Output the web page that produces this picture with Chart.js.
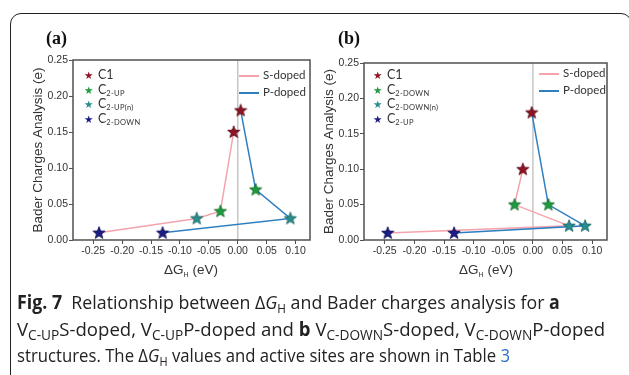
<!DOCTYPE html>
<html><head><meta charset="utf-8">
<script src="https://cdn.jsdelivr.net/npm/chart.js@4"></script>
<style>
html,body{margin:0;padding:0;background:#fff;}
body{width:629px;height:375px;position:relative;overflow:hidden;font-family:"Liberation Sans",Arial,sans-serif;}
#frame{position:absolute;left:10px;top:13px;width:622px;height:420px;border:1.3px solid #222;border-radius:11px;box-sizing:border-box;}
canvas{position:absolute;top:0;}
#ca{left:0;}
#cb{left:310px;}
.plabel{position:absolute;font-family:"Liberation Serif","Times New Roman",serif;font-weight:bold;font-size:18px;color:#111;line-height:18px;}
.xt{position:absolute;font-size:13.5px;color:#333;transform:translateX(-50%);white-space:nowrap;line-height:14px;}
.xt sub{font-size:7px;vertical-align:-3px;}
.leg{position:absolute;font-family:Lato,"Open Sans",sans-serif;font-size:12.5px;color:#333;}
.leg .row{white-space:nowrap;height:14.5px;line-height:14.5px;}
.leg .st{font-family:"DejaVu Sans",sans-serif;font-size:10.5px;display:inline-block;width:14px;}
.leg sub{font-size:7.5px;vertical-align:-2px;letter-spacing:0.3px;}
.leg2{position:absolute;font-family:Lato,"Open Sans",sans-serif;font-size:11.5px;color:#333;}
.leg2 .row{white-space:nowrap;height:17px;line-height:17px;}
.leg2 .ln{display:inline-block;width:20px;height:1.5px;vertical-align:middle;margin-right:4px;}
#cap{position:absolute;left:17px;top:289px;font-family:"Open Sans",sans-serif;font-size:19px;line-height:26.5px;color:#222;white-space:nowrap;}
#cap .row{height:26.5px;}
#cap .ln{display:inline-block;transform-origin:0 0;}
#cap sub{font-size:12.5px;vertical-align:-4px;line-height:0;}
#cap .big sub{font-size:14px;}
</style></head>
<body>
<div id="frame"></div>
<canvas id="ca" width="320" height="280"></canvas>
<canvas id="cb" width="319" height="280"></canvas>
<div class="plabel" style="left:46px;top:29px;">(a)</div>
<div class="plabel" style="left:338px;top:29px;">(b)</div>
<div class="xt" id="xta" style="left:191px;top:263px;">ΔG<sub>H</sub> (eV)</div>
<div class="xt" id="xtb" style="left:486px;top:263px;">ΔG<sub>H</sub> (eV)</div>
<div class="leg" id="lega" style="left:84px;top:68px;"></div>
<div class="leg" id="legb" style="left:373px;top:68px;"></div>
<div class="leg2" id="leg2a" style="left:239px;top:66px;"></div>
<div class="leg2" id="leg2b" style="left:539px;top:64px;"></div>
<div id="cap">
<div class="row"><span class="ln" data-w="543"><b>Fig. 7</b>&nbsp; Relationship between Δ<i>G</i><sub>H</sub> and Bader charges analysis for <b>a</b></span></div>
<div class="row"><span class="ln big" data-w="588">V<sub>C-UP</sub>S-doped, V<sub>C-UP</sub>P-doped and <b>b</b> V<sub>C-DOWN</sub>S-doped, V<sub>C-DOWN</sub>P-doped</span></div>
<div class="row"><span class="ln" data-w="493">structures. The Δ<i>G</i><sub>H</sub> values and active sites are shown in Table <span style="color:#2a6fc9">3</span></span></div>
</div>
<script>
// ---- data ----
const xTickValues = [-0.25, -0.20, -0.15, -0.10, -0.05, 0.00, 0.05, 0.10];
const yTickValues = [0.00, 0.05, 0.10, 0.15, 0.20, 0.25];
const seriesNames = ['S-doped', 'P-doped'];

// panel (a)
const aLegend = ['C1', 'C2-UP', 'C2-UP(n)', 'C2-DOWN'];
const aS_site = ['C2-DOWN', 'C2-UP(n)', 'C2-UP', 'C1'];
const aS_x = [-0.240, -0.071, -0.030, -0.007];
const aS_y = [0.010, 0.030, 0.040, 0.150];
const aP_site = ['C1', 'C2-UP', 'C2-UP(n)', 'C2-DOWN'];
const aP_x = [0.005, 0.031, 0.091, -0.130];
const aP_y = [0.180, 0.070, 0.030, 0.010];

// panel (b)
const bLegend = ['C1', 'C2-DOWN', 'C2-DOWN(n)', 'C2-UP'];
const bS_site = ['C1', 'C2-DOWN', 'C2-DOWN(n)', 'C2-UP'];
const bS_x = [-0.017, -0.031, 0.061, -0.245];
const bS_y = [0.100, 0.050, 0.020, 0.010];
const bP_site = ['C1', 'C2-DOWN', 'C2-DOWN(n)', 'C2-UP'];
const bP_x = [-0.002, 0.026, 0.088, -0.133];
const bP_y = [0.180, 0.050, 0.020, 0.010];

// ---- style ----
const siteColors = ['#8e1426', '#1f9a3e', '#2a8e8e', '#1c1c86'];
const siteEdge = ['#5a0a14', '#0f6a26', '#176060', '#0c0c55'];
const lineColors = ['#f4a4ac', '#2f7fc0'];

function starCanvas(fill, edge) {
  const c = document.createElement('canvas');
  c.width = 14; c.height = 14;
  const g = c.getContext('2d');
  const R = 6.5, r = 2.7, cx = 7, cy = 7.3;
  g.beginPath();
  for (let i = 0; i < 10; i++) {
    const rad = i % 2 === 0 ? R : r;
    const a = -Math.PI / 2 + i * Math.PI / 5;
    const px = cx + rad * Math.cos(a), py = cy + rad * Math.sin(a);
    if (i === 0) g.moveTo(px, py); else g.lineTo(px, py);
  }
  g.closePath();
  g.fillStyle = fill; g.fill();
  g.lineWidth = 0.8; g.strokeStyle = edge; g.stroke();
  return c;
}
const stars = siteColors.map((c, i) => starCanvas(c, siteEdge[i]));

const framePlugin = {
  id: 'frame',
  beforeDatasetsDraw(chart) {
    const { ctx, chartArea: a, scales } = chart;
    const x0 = scales.x.getPixelForValue(0);
    ctx.save();
    ctx.strokeStyle = '#c6c6c6'; ctx.lineWidth = 1.5;
    ctx.beginPath(); ctx.moveTo(x0, a.top); ctx.lineTo(x0, a.bottom); ctx.stroke();
    ctx.restore();
  },
  afterDatasetsDraw(chart) {
    const { ctx, chartArea: a } = chart;
    ctx.save();
    ctx.strokeStyle = '#505050'; ctx.lineWidth = 1.5;
    ctx.strokeRect(a.left, a.top, a.right - a.left, a.bottom - a.top);
    ctx.restore();
  }
};

function zip(xs, ys) { return xs.map((x, i) => ({ x: x, y: ys[i] })); }

function makeChart(id, legend, sSite, sx, sy, pSite, px, py, pad) {
  const styleFor = sites => sites.map(s => stars[legend.indexOf(s)]);
  const datasets = [
    { label: seriesNames[0] + ' sites', data: zip(sx, sy), showLine: false, pointStyle: styleFor(sSite), pointRadius: 6, order: 1 },
    { label: seriesNames[1] + ' sites', data: zip(px, py), showLine: false, pointStyle: styleFor(pSite), pointRadius: 6, order: 1 },
    { label: seriesNames[1], data: zip(px, py), showLine: true, borderColor: lineColors[1], borderWidth: 1.5, pointRadius: 0, order: 2 },
    { label: seriesNames[0], data: zip(sx, sy), showLine: true, borderColor: lineColors[0], borderWidth: 1.5, pointRadius: 0, order: 3 }
  ];
  return new Chart(document.getElementById(id), {
    type: 'scatter',
    data: { datasets },
    plugins: [framePlugin],
    options: {
      responsive: false, animation: false, devicePixelRatio: 1,
      layout: { padding: pad },
      plugins: { legend: { display: false }, tooltip: { enabled: false } },
      scales: {
        x: {
          type: 'linear', min: -0.285, max: 0.125,
          afterBuildTicks: s => { s.ticks = xTickValues.map(v => ({ value: v })); },
          afterFit: s => { s.height = 40; },
          ticks: { callback: v => v.toFixed(2), font: { size: 10.5, family: 'Liberation Sans' }, color: '#333', padding: 1, maxRotation: 0, autoSkip: false },
          grid: { drawOnChartArea: false, drawTicks: true, tickLength: 4, tickColor: '#505050', tickWidth: 1 },
          border: { display: false }
        },
        y: {
          type: 'linear', min: 0, max: 0.25,
          afterBuildTicks: s => { s.ticks = yTickValues.map(v => ({ value: v })); },
          afterFit: s => { s.width = 46; },
          ticks: { callback: v => v.toFixed(2), font: { size: 10.5, family: 'Liberation Sans' }, color: '#333', padding: 1, autoSkip: false },
          grid: { drawOnChartArea: false, drawTicks: true, tickLength: 4, tickColor: '#505050', tickWidth: 1 },
          border: { display: false },
          title: { display: true, text: 'Bader Charges Analysis (e)', font: { size: 13.5, family: 'Liberation Sans' }, color: '#333', padding: { top: 3, bottom: 0 } }
        }
      }
    }
  });
}

makeChart('ca', aLegend, aS_site, aS_x, aS_y, aP_site, aP_x, aP_y, { left: 27, top: 60, right: 10, bottom: 0 });
makeChart('cb', bLegend, bS_site, bS_x, bS_y, bP_site, bP_x, bP_y, { left: 8, top: 63, right: 22, bottom: 0 });

function siteLabel(s) { return s.startsWith('C2') ? 'C<sub>' + s.slice(1) + '</sub>' : s; }
function buildLegend(elId, legend) {
  document.getElementById(elId).innerHTML = legend.map((s, i) =>
    '<div class="row"><span class="st" style="color:' + siteColors[i] + '">★</span>' + siteLabel(s) + '</div>').join('');
}
buildLegend('lega', aLegend);
buildLegend('legb', bLegend);
function buildLegend2(elId) {
  document.getElementById(elId).innerHTML = seriesNames.map((n, i) =>
    '<div class="row"><span class="ln" style="background:' + lineColors[i] + '"></span>' + n + '</div>').join('');
}
buildLegend2('leg2a');
buildLegend2('leg2b');

// fit each caption line to the reference's line length
document.querySelectorAll('#cap .ln').forEach(el => {
  const w = el.getBoundingClientRect().width;
  el.style.transform = 'scaleX(' + (parseFloat(el.dataset.w) / w).toFixed(3) + ')';
});
</script>
</body></html>
